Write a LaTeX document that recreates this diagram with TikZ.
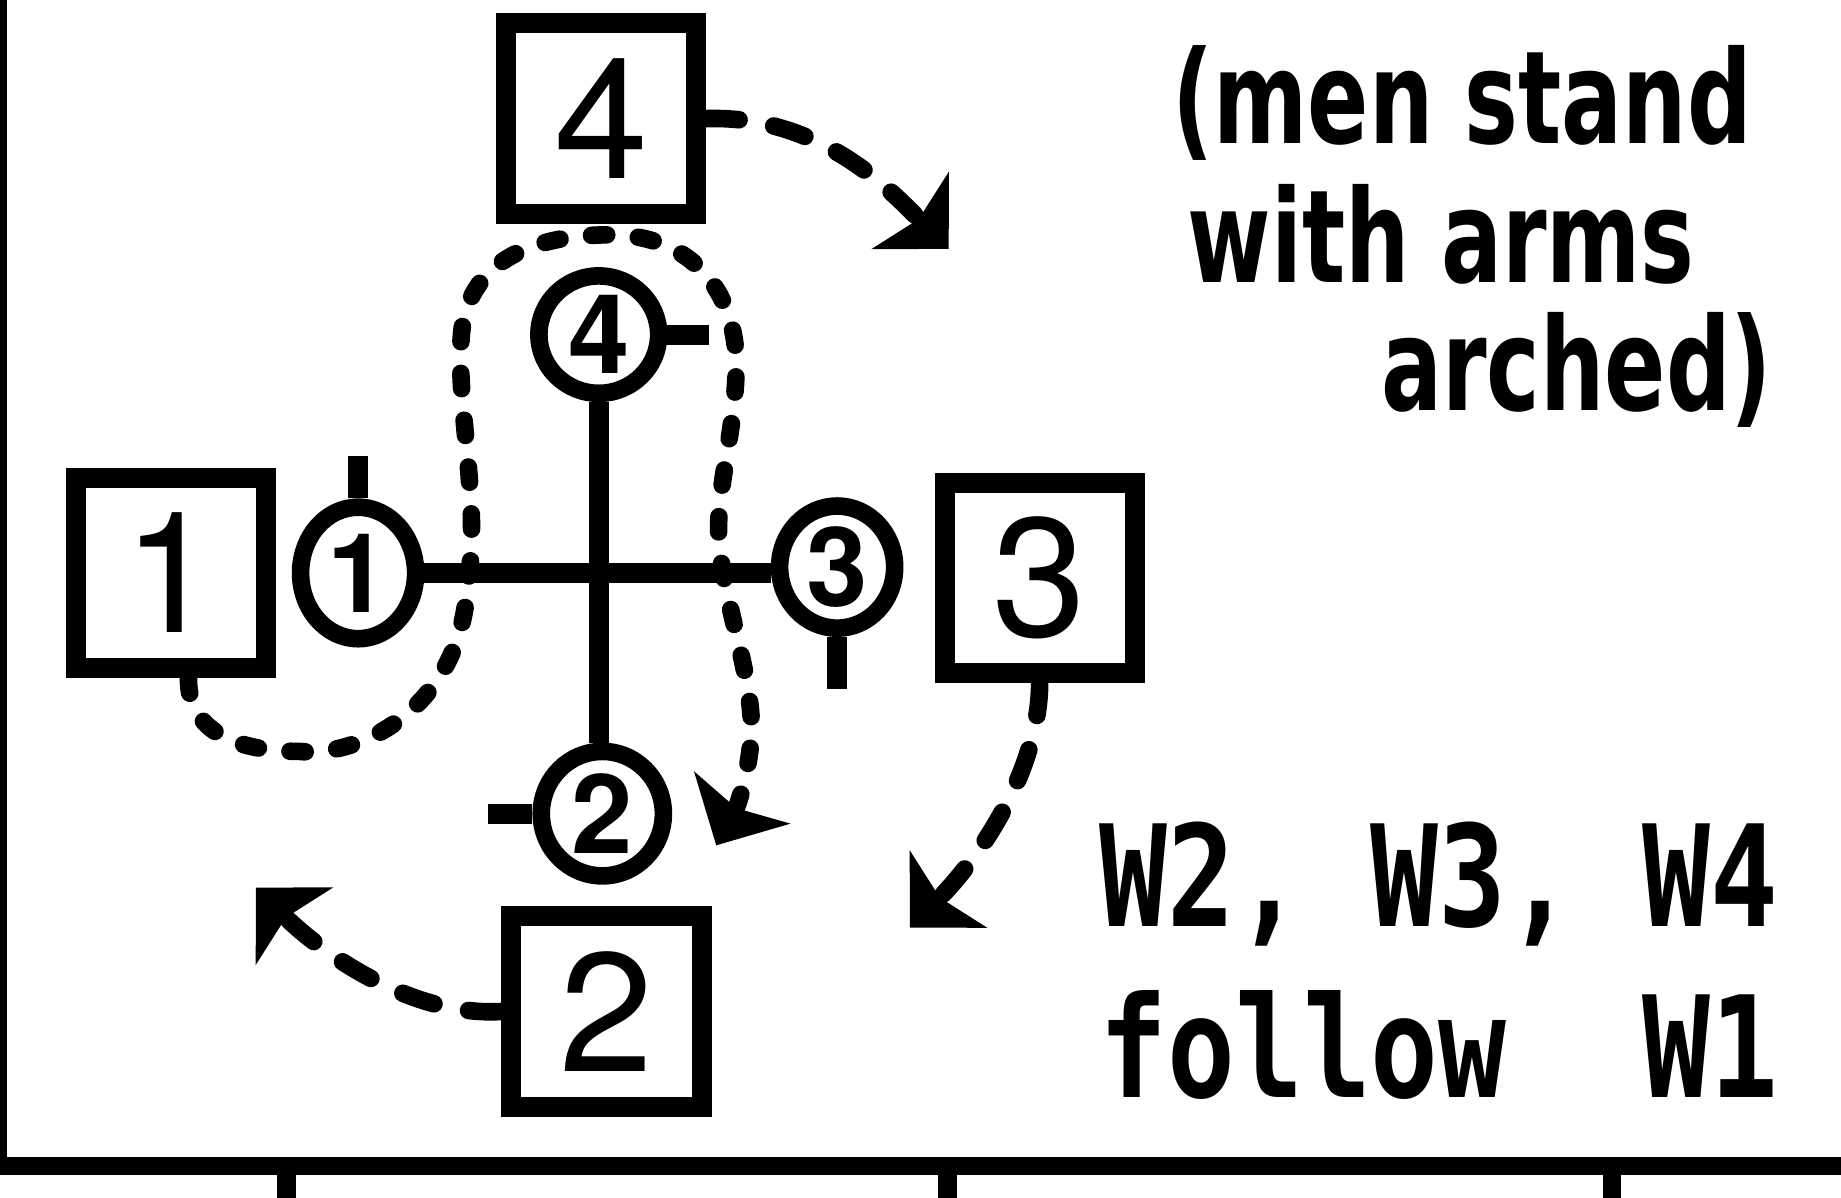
\documentclass[tikz,border=0pt]{standalone}
\usepackage{fontspec}
\newfontfamily\digitfont{TeX Gyre Heros}
\newfontfamily\notefont{DejaVu Sans}[FakeStretch=0.70]
\newfontfamily\wfont{DejaVu Sans Mono}[FakeStretch=0.80]
\usetikzlibrary{arrows.meta,shapes.geometric,calc}
\begin{document}
\begin{tikzpicture}[x=0.5pt,y=-0.5pt,
  box/.style={draw, line width=8.5pt, minimum width=81pt, minimum height=81pt, inner sep=0pt,
    font=\digitfont\fontsize{72pt}{72pt}\selectfont},
  man/.style={draw, ellipse, line width=7.5pt, inner sep=0pt,
    font=\digitfont\bfseries\fontsize{47pt}{47pt}\selectfont},
  arm/.style={line width=8.5pt},
  tip/.style={-{Stealth[length=23pt,width=46pt,inset=5pt]}},
  dpath/.style={tip, line width=7.5pt, line cap=round, dash pattern=on 14pt off 15pt},
  dloop/.style={tip, line width=7.5pt, line cap=round, dash pattern=on 6.5pt off 13.5pt},
  note/.style={anchor=base west, inner sep=0pt, font=\notefont\bfseries\fontsize{55pt}{55pt}\selectfont},
  wnote/.style={anchor=base west, inner sep=0pt, font=\wfont\bfseries\fontsize{60pt}{60pt}\selectfont}]
\useasboundingbox (0,0) rectangle (1568,1020);
% frame
\draw[line width=3pt] (3,0) -- (3,993);
\draw[line width=8pt] (0,993) -- (1568,993);
\foreach \x in {244,807,1373} \draw[line width=8pt] (\x,993) -- (\x,1020);
% boxes
\node[box] (b4) at (512,101) {4};
\node[box] (b1) at (145.5,488) {1};
\node[box] (b3) at (885.5,492) {3};
\node[box] (b2) at (516.5,861.5) {2};
% men / ovals
\node[man, minimum width=51pt, minimum height=50pt] (o4) at (510,285) {4};
\node[man, minimum width=49pt, minimum height=56pt] (o1) at (305,488) {1};
\node[man, minimum width=49pt, minimum height=52pt] (o3) at (713,483) {3};
\node[man, minimum width=52pt, minimum height=53pt] (o2) at (513,693) {2};
% cross
\draw[arm] (o1.east) -- (o1.east -| o3.west);
\draw[arm] (o4.south) -- (o4.south |- o2.north);
% stubs
\draw[arm] (o1.north) -- ++(0,-36);
\draw[arm] (o3.south) -- ++(0,44);
\draw[arm] (o4.east) -- ++(35,0);
\draw[arm] (o2.west) -- ++(-38,0);
% arrow tips
\coordinate (t4) at (808,212);
\coordinate (t1) at (610,720);
\coordinate (t3) at (775,790);
\coordinate (t2) at (218,756);
% dashed arrows
\draw[dpath] (b4.east) .. controls (700,98) and (760,164) .. (t4);
\draw[dpath] (b3.south) .. controls (885,660) and (830,735) .. (t3);
\draw[dpath] (b2.west) .. controls (350,866) and (273,811) .. (t2);
\draw[dloop] ($(b1.south)+(15,0)$) .. controls (160,625) and (205,640) .. (255,640)
  .. controls (310,645) and (392,600) .. (398,500)
  .. controls (410,430) and (388,345) .. (393,285)
  .. controls (398,225) and (450,200) .. (520,200)
  .. controls (590,200) and (627,250) .. (627,310)
  .. controls (627,360) and (612,410) .. (612,450)
  .. controls (612,500) and (640,570) .. (640,620)
  .. controls (640,650) and (629,685) .. (t1);
% notes
\node[note] (n1) at (998,122) {(men stand};
\node[note] (n2) at (1011,241) {with arms};
\node[note] (n3) at (1176,350) {arched)};
\node[wnote] (w1) at (936,789) {W2, W3, W4};
\node[wnote] (w2) at (936,935) {follow\ \ W1};
\end{tikzpicture}
\end{document}
